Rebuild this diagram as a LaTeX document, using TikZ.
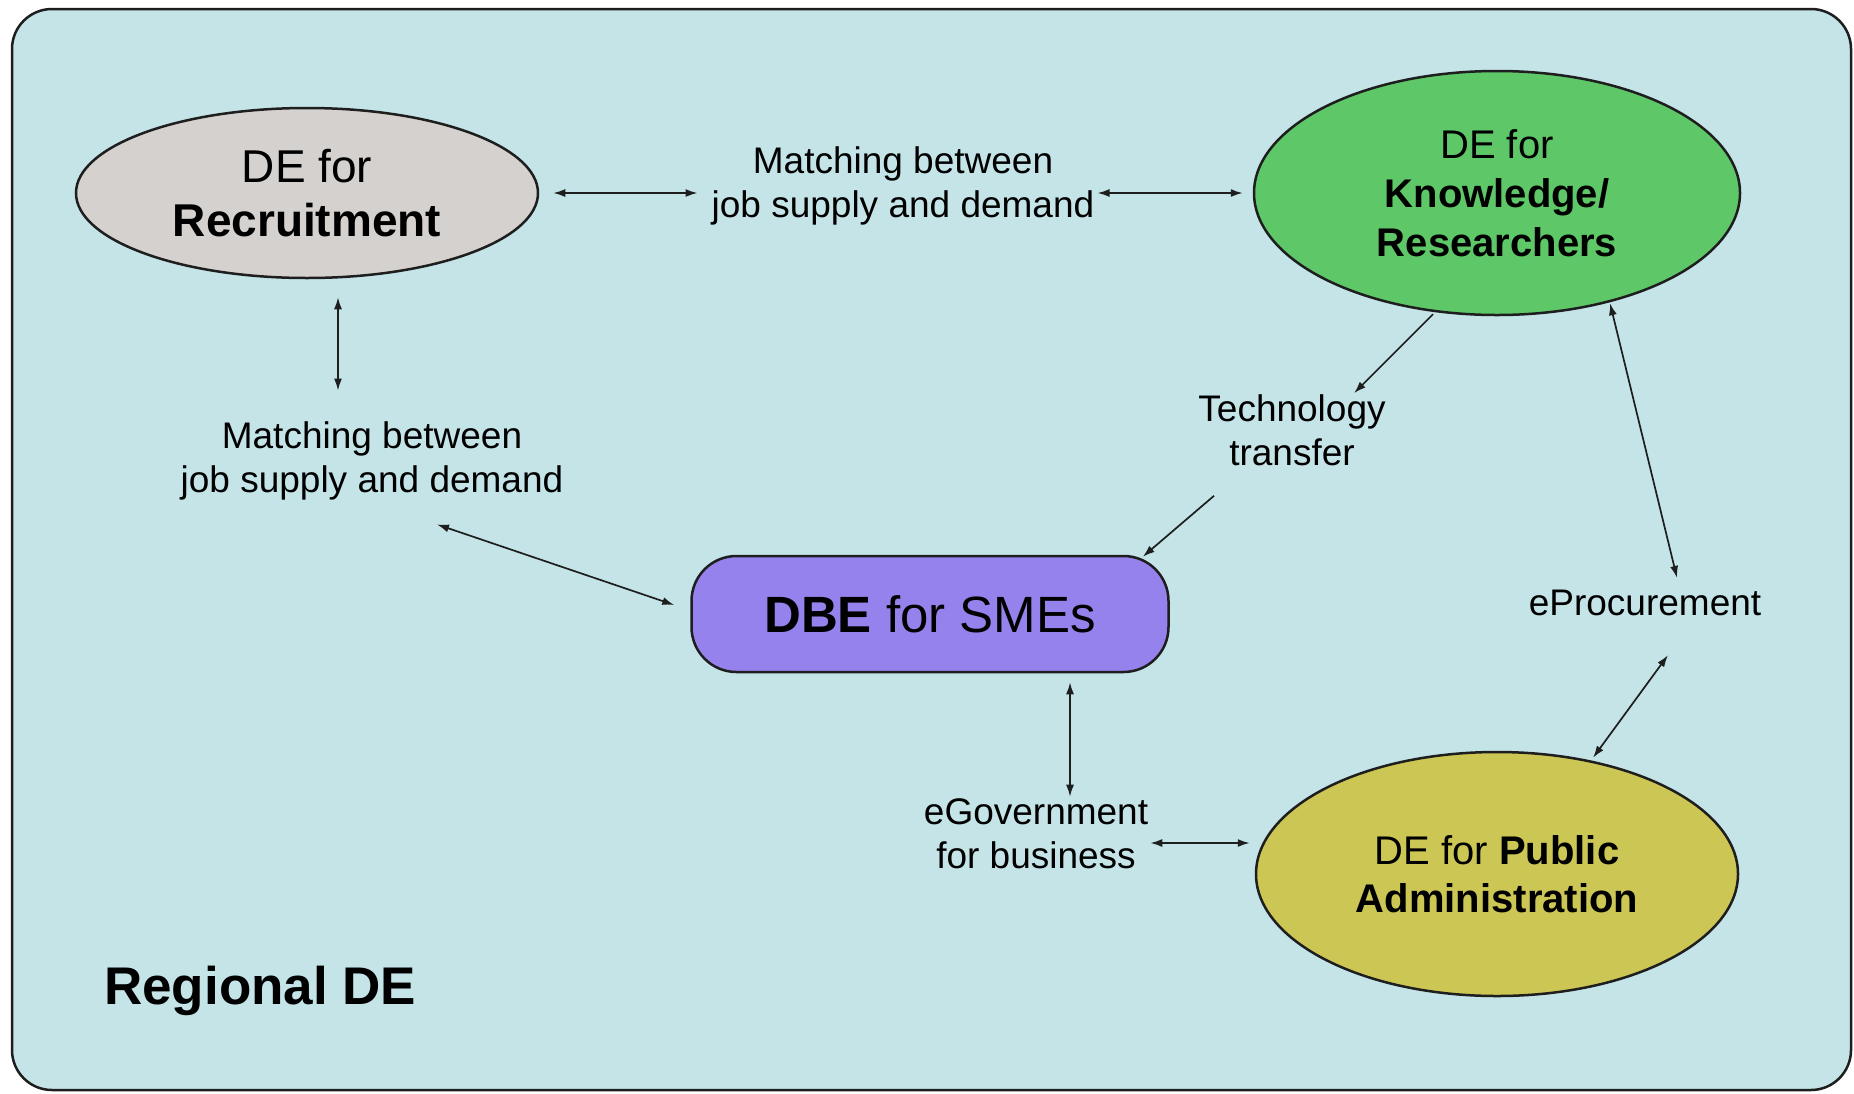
\documentclass[tikz,border=0pt]{standalone}
\usepackage{fontspec}
\setmainfont{Liberation Sans}
\usetikzlibrary{shapes.geometric,arrows.meta}
\definecolor{bgc}{RGB}{196,228,232}
\definecolor{recc}{RGB}{212,209,206}
\definecolor{knc}{RGB}{94,200,105}
\definecolor{dbec}{RGB}{150,130,236}
\definecolor{pac}{RGB}{204,198,84}
\definecolor{edge}{RGB}{30,30,30}
\begin{document}
\begin{tikzpicture}[x=1pt,y=-1pt,
  oval/.style={ellipse, draw=edge, line width=2.5pt, inner sep=0pt, align=center},
  lbl/.style={align=center, inner sep=0pt, font=\fontsize{37}{44}\selectfont},
  tip/.tip={Latex[length=12pt,width=8pt]},
  arr/.style={line width=1.7pt, draw=edge, tip-tip},
  arrone/.style={line width=1.7pt, draw=edge, -tip}
]
\useasboundingbox (0,0) rectangle (1854,1093);
\node[draw=edge, fill=bgc, line width=2.5pt, rounded corners=40pt, minimum width=1839pt, minimum height=1081pt, inner sep=0pt] (frame) at (931.5,549.5) {};

\node[oval, fill=recc, minimum width=462pt, minimum height=170pt, font=\fontsize{46}{54}\selectfont] (rec) at (307,193) {DE for\\\textbf{Recruitment}};
\node[oval, fill=knc, minimum width=486pt, minimum height=244pt, font=\fontsize{40}{49}\selectfont] (kn) at (1497,193) {DE for\\\textbf{Knowledge/}\\\textbf{Researchers}};
\node[draw=edge, fill=dbec, line width=2.5pt, rounded corners=45pt, minimum width=477pt, minimum height=116pt, inner sep=0pt, font=\fontsize{51}{60}\selectfont] (dbe) at (930,614) {\textbf{DBE} for SMEs};
\node[oval, fill=pac, minimum width=482pt, minimum height=244pt, font=\fontsize{40}{48}\selectfont] (pa) at (1497,874) {DE for \textbf{Public}\\\textbf{Administration}};

\node[lbl] (m1) at (903,186) {Matching between\\job supply and demand};
\node[lbl] (m2) at (372,461) {Matching between\\job supply and demand};
\node[lbl] (tt) at (1292,430) {Technology\\transfer};
\node[lbl] (ep) at (1645,603) {eProcurement};
\node[lbl] (eg) at (1036,834) {eGovernment\\for business};
\node[anchor=west, inner sep=0pt, font=\fontsize{53}{62}\selectfont\bfseries] (reg) at (104,991) {Regional DE};

\draw[arr] ([shift={(14,0)}]rec.east) -- ([shift={(-14,7)}]m1.west);
\draw[arr] ([shift={(3,7)}]m1.east) -- ([shift={(-10,0)}]kn.west);
\draw[arr] ([shift={(31,18)}]rec.south) -- ([shift={(-34,-31)}]m2.north);
\draw[arr] ([shift={(65,24)}]m2.south) -- ([shift={(-16,-9)}]dbe.west);
\draw[arrone] ([shift={(-64,-2)}]kn.south) -- ([shift={(62,-1)}]tt.north);
\draw[arrone] ([shift={(-78,30)}]tt.south) -- ([shift={(-27,2)}]dbe.north east);
\draw[arr] ([shift={(113,-13)}]kn.south) -- ([shift={(32,-12)}]ep.north);
\draw[arr] ([shift={(23,39)}]ep.south) -- ([shift={(96,7)}]pa.north);
\draw[arr] ([shift={(140,9)}]dbe.south) -- ([shift={(34,-2)}]eg.north);
\draw[arr] ([shift={(2,9)}]eg.east) -- ([shift={(-5,-31)}]pa.west);
\end{tikzpicture}
\end{document}
